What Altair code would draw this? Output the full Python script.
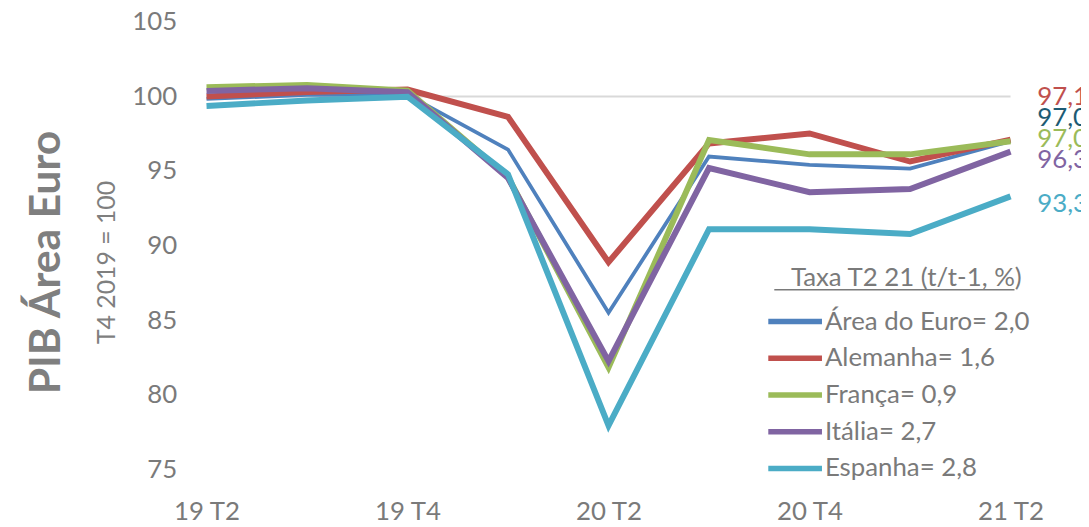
import altair as alt
import pandas as pd

# ---- data ----
quarters = ["19 T2", "19 T3", "19 T4", "20 T1", "20 T2", "20 T3", "20 T4", "21 T1", "21 T2"]
series = ["Área do Euro= 2,0", "Alemanha= 1,6", "França= 0,9", "Itália= 2,7", "Espanha= 2,8"]
area_euro = [99.84, 100.10, 100.10, 96.44, 85.51, 95.97, 95.42, 95.16, 97.0]
alemanha = [100.00, 100.30, 100.46, 98.63, 88.89, 96.85, 97.52, 95.64, 97.1]
franca = [100.62, 100.77, 100.38, 94.60, 81.84, 97.08, 96.12, 96.12, 97.0]
italia = [100.37, 100.55, 100.28, 94.53, 82.26, 95.20, 93.58, 93.80, 96.3]
espanha = [99.36, 99.73, 99.98, 94.78, 77.94, 91.10, 91.10, 90.78, 93.3]
last_labels = ["97,0", "97,1", "97,0", "96,3", "93,3"]
y_ticks = [75, 80, 85, 90, 95, 100, 105]
x_ticks = ["19 T2", "19 T4", "20 T2", "20 T4", "21 T2"]
grid_values = [100]
legend_title = "Taxa T2 21 (t/t-1, %)"
title_text = "PIB Área Euro"
subtitle_text = "T4 2019 = 100"

# ---- styles ----
FONT = "Lato"
GREY = "#7a7a7a"
line_colors = ["#4F81BD", "#C0504D", "#9BBB59", "#8064A2", "#4BACC6"]
label_colors = ["#1D5B74", "#C0504D", "#9BBB59", "#8064A2", "#4BACC6"]
widths = [3.8, 6, 6, 6, 6]

values = [area_euro, alemanha, franca, italia, espanha]
rows = []
for name, vals in zip(series, values):
    for q, v in zip(quarters, vals):
        rows.append({"serie": name, "trimestre": q, "valor": v})
df = pd.DataFrame(rows)

# end labels: push overlapping labels upward (like the spreadsheet does)
last_vals = [v[-1] for v in values]
order = sorted(range(len(last_vals)), key=lambda i: (last_vals[i], -i))
gap = 1.4
pos = [0.0] * len(last_vals)
prev = None
for i in order:
    p = last_vals[i] if prev is None else max(last_vals[i], prev + gap)
    pos[i] = p
    prev = p
df_lab = pd.DataFrame({"serie": series, "trimestre": quarters[-1], "pos": pos, "txt": last_labels})

x_enc = alt.X(
    "trimestre:O", sort=quarters,
    scale=alt.Scale(type="point", padding=0),
    axis=alt.Axis(values=x_ticks, labelAngle=0, labelFontSize=26, labelColor=GREY,
                  labelFont=FONT, labelPadding=29, domain=False, ticks=False,
                  grid=False, title=None),
)
y_scale = alt.Scale(domain=[75, 105], nice=False, zero=False)
y_axis = alt.Axis(values=y_ticks, labelFontSize=26, labelColor=GREY, labelFont=FONT,
                  labelPadding=30, domain=False, ticks=False, grid=False, title=None)

legend = alt.Legend(
    title=legend_title, orient="none", legendX=580, legendY=245,
    symbolType="M-5,0H5", symbolSize=117, symbolStrokeWidth=5.5,
    labelFontSize=26, labelFont=FONT,
    labelColor=GREY, labelOffset=17, labelLimit=600, titleFontSize=26,
    titleFont=FONT, titleFontWeight="normal", titleColor=GREY, titleLimit=600,
    titleAnchor="middle", titleAlign="center", titlePadding=18,
    rowPadding=11, padding=0,
)

grid = alt.Chart(pd.DataFrame({"g": grid_values})).mark_rule(
    color="#D9D9D9", strokeWidth=2
).encode(y=alt.Y("g:Q", scale=y_scale, axis=y_axis))

lines = alt.Chart(df).mark_line().encode(
    x=x_enc,
    y=alt.Y("valor:Q", scale=y_scale, axis=y_axis),
    color=alt.Color("serie:N", sort=series,
                    scale=alt.Scale(domain=series, range=line_colors), legend=legend),
    strokeWidth=alt.StrokeWidth("serie:N", sort=series,
                                scale=alt.Scale(type="ordinal", domain=series, range=widths),
                                legend=None),
)

labels = alt.Chart(df_lab).mark_text(
    align="left", baseline="middle", dx=27, dy=8, fontSize=26, font=FONT
).encode(
    x=x_enc,
    y=alt.Y("pos:Q", scale=y_scale, axis=y_axis),
    text="txt:N",
    color=alt.Color("serie:N", scale=alt.Scale(domain=series, range=label_colors), legend=None),
)

underline = alt.Chart(pd.DataFrame({"t": [legend_title]})).mark_rule(
    color=GREY, strokeWidth=1.5
).encode(x=alt.value(572), x2=alt.value(814), y=alt.value(270))

chart = alt.layer(grid, lines, labels, underline).resolve_scale(color="independent").properties(
    width=810, height=451,
    autosize=alt.AutoSizeParams(type="none"),
    padding={"left": 200, "top": 12, "right": 71, "bottom": 54},
    title=alt.TitleParams(
        text=title_text, subtitle=subtitle_text, orient="left", anchor="middle",
        font=FONT, fontSize=43, fontWeight="bold", color="#7f7f7f",
        subtitleFont=FONT, subtitleFontSize=25, subtitleColor="#7f7f7f",
        subtitlePadding=26, offset=12, dx=-17,
    ),
).configure_view(stroke=None)

chart.save("out.html", embed_options={"renderer": "svg", "actions": False})
